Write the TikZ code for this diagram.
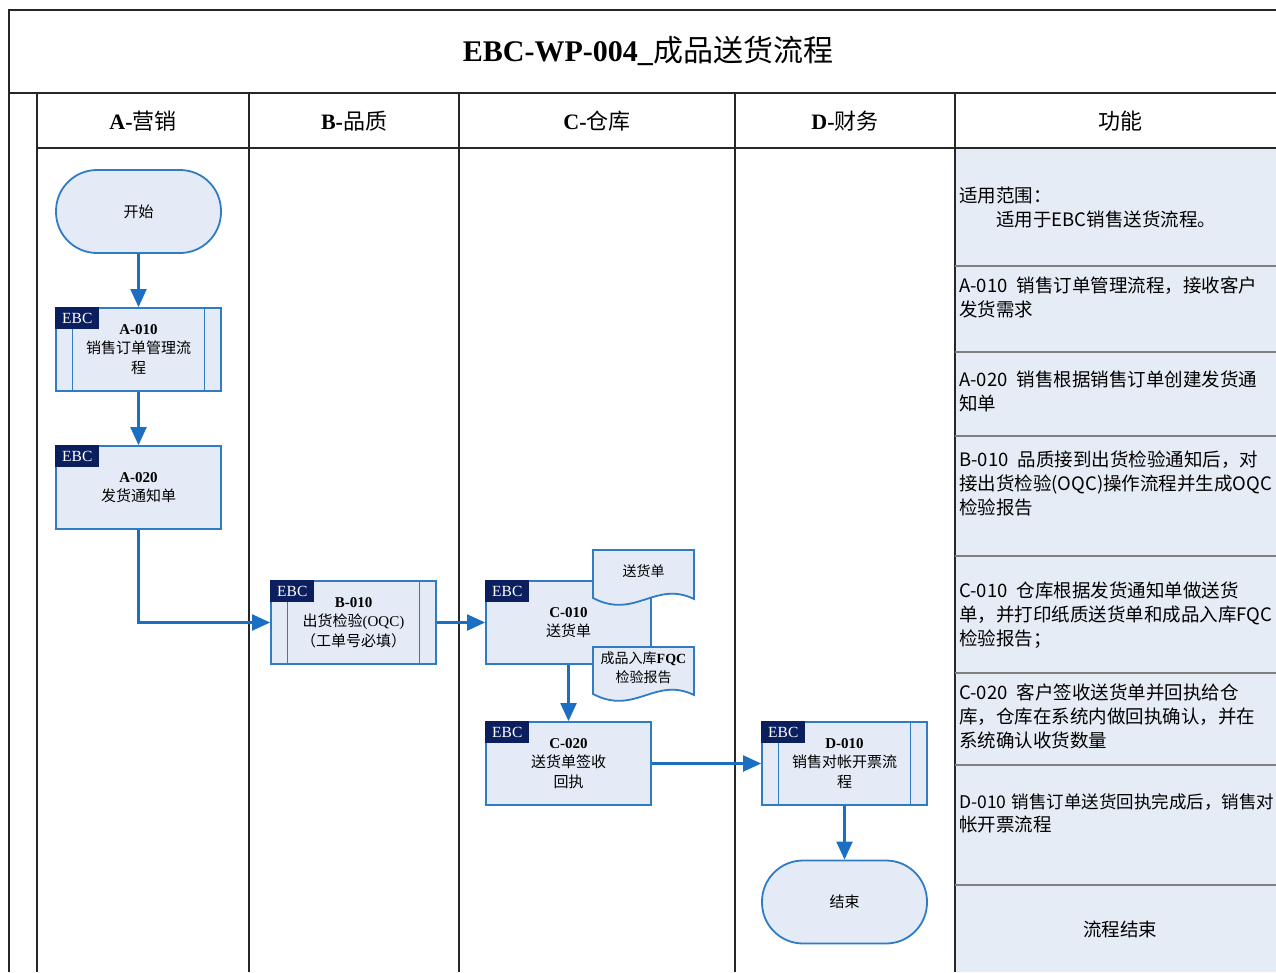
\documentclass[tikz,border=0pt]{standalone}
\usepackage{fontspec}
\setmainfont{Liberation Serif}
\newfontfamily\cjk{Noto Sans CJK SC}
\usetikzlibrary{arrows.meta}
\definecolor{boxfill}{HTML}{E4EBF6}
\definecolor{boxline}{HTML}{2F7BC4}
\definecolor{flowc}{HTML}{1A6FC2}
\definecolor{navy}{HTML}{0B1F5E}
\definecolor{colfill}{HTML}{E6ECF5}
\begin{document}
\begin{tikzpicture}[x=1pt, y=-1pt,
	tl/.style={line width=1.6pt, draw=black!85},
	sep/.style={line width=1.2pt, draw=black!50},
	hd/.style={font=\fontsize{22}{26}\selectfont\cjk},
	box/.style={draw=boxline, fill=boxfill, line width=1.8pt, minimum width=165pt, minimum height=83pt, inner sep=0pt, align=center, font=\fontsize{15}{19.5}\selectfont\cjk},
	sub/.style={box, path picture={\draw[boxline, line width=1.8pt]
		([xshift=16.5pt]path picture bounding box.north west) -- ([xshift=16.5pt]path picture bounding box.south west)
		([xshift=-16.5pt]path picture bounding box.north east) -- ([xshift=-16.5pt]path picture bounding box.south east);}},
	term/.style={box, rounded corners=41pt},
	ebc/.style={fill=navy, text=white, anchor=north west, minimum width=44pt, minimum height=22pt, inner sep=0pt, font=\fontsize{15.5}{15.5}\selectfont},
	doc/.style={draw=boxline, fill=boxfill, line width=1.8pt},
	dt/.style={align=center, inner sep=0pt, font=\fontsize{14}{19}\selectfont\cjk},
	fn/.style={anchor=north west, align=left, inner sep=0pt, font=\fontsize{18.5}{23.8}\selectfont\cjk},
	flow/.style={draw=flowc, line width=2.2pt, -{Triangle[length=18pt, width=16pt]}}]
	\useasboundingbox (0,0) rectangle (1276,972);
	\clip (0,0) rectangle (1276,972);

	\fill[colfill] (955,148) rectangle (1276,972);
	\draw[tl] (1276,10) -- (9,10) -- (9,972);
	\draw[tl] (9,93) -- (1276,93);
	\draw[tl] (37,93) -- (37,972);
	\draw[tl] (37,148) -- (1276,148);
	\foreach \x in {249,459,735,955} \draw[tl] (\x,93) -- (\x,972);
	\foreach \y in {266,352,436,556,673,765,885} \draw[sep] (955,\y) -- (1276,\y);

	\node[font=\fontsize{30}{34}\selectfont] (title) at (648,51) {\textbf{EBC-WP-004\_}{\cjk 成品送货流程}};
	\node[hd] (ha) at (143,121) {{\rmfamily\bfseries A-}营销};
	\node[hd] (hb) at (354,121) {{\rmfamily\bfseries B-}品质};
	\node[hd] (hc) at (597,121) {{\rmfamily\bfseries C-}仓库};
	\node[hd] (hd) at (845,121) {{\rmfamily\bfseries D-}财务};
	\node[hd] (hf) at (1120,121) {功能};

	\node[term] (start) at (138.5,211.5) {开始};
	\node[sub] (a010) at (138.5,349.5) {{\rmfamily\bfseries A-010}\\销售订单管理流\\程};
	\node[box] (a020) at (138.5,487.5) {{\rmfamily\bfseries A-020}\\发货通知单};
	\node[sub] (b010) at (353.5,622.5) {{\rmfamily\bfseries B-010}\\出货检验{\rmfamily(OQC)}\\（工单号必填）};
	\node[box] (c010) at (568.5,622.5) {{\rmfamily\bfseries C-010}\\送货单};
	\node[box] (c020) at (568.5,763.5) {{\rmfamily\bfseries C-020}\\送货单签收\\回执};
	\node[sub] (d010) at (844.5,763.5) {{\rmfamily\bfseries D-010}\\销售对帐开票流\\程};
	\node[term] (end) at (844.5,902) {结束};
	\foreach \n in {a010,a020,b010,c010,c020,d010} \node[ebc] (\n-ebc) at (\n.north west) {EBC};

	\draw[doc] (593,550) -- (694,550) -- (694,599) .. controls (655,580) and (635,620) .. (593,598) -- cycle;
	\node[dt] (slip) at (643.5,571) {送货单};
	\draw[doc] (593,647) -- (694,647) -- (694,695) .. controls (655,676) and (635,716) .. (593,694) -- cycle;
	\node[dt] (report) at (643.5,668) {成品入库{\rmfamily\bfseries FQC}\\检验报告};

	\draw[flow] (start) -- (a010);
	\draw[flow] (a010) -- (a020);
	\draw[flow] (a020) |- (b010);
	\draw[flow] (b010) -- (c010);
	\draw[flow] (c010) -- (c020);
	\draw[flow] (c020) -- (d010);
	\draw[flow] (d010) -- (end);

	\node[fn] (f0) at (959,187) {适用范围：\\\hspace*{2em}适用于EBC销售送货流程。};
	\node[fn] (f1) at (959,277) {A-010\hspace{.5em}销售订单管理流程，接收客户\\发货需求};
	\node[fn] (f2) at (959,371) {A-020\hspace{.5em}销售根据销售订单创建发货通\\知单};
	\node[fn] (f3) at (959,451) {B-010\hspace{.5em}品质接到出货检验通知后，对\\接出货检验(OQC)操作流程并生成OQC\\检验报告};
	\node[fn] (f4) at (959,582) {C-010\hspace{.5em}仓库根据发货通知单做送货\\单，并打印纸质送货单和成品入库FQC\\检验报告；};
	\node[fn] (f5) at (959,684) {C-020\hspace{.5em}客户签收送货单并回执给仓\\库，仓库在系统内做回执确认，并在\\系统确认收货数量};
	\node[fn] (f6) at (959,793) {{\fontsize{17.5}{23.8}\selectfont D-010\hspace{.3em}销售订单送货回执完成后，销售对}\\帐开票流程};
	\node[fn, anchor=center] (f7) at (1120,929) {流程结束};
\end{tikzpicture}
\end{document}
